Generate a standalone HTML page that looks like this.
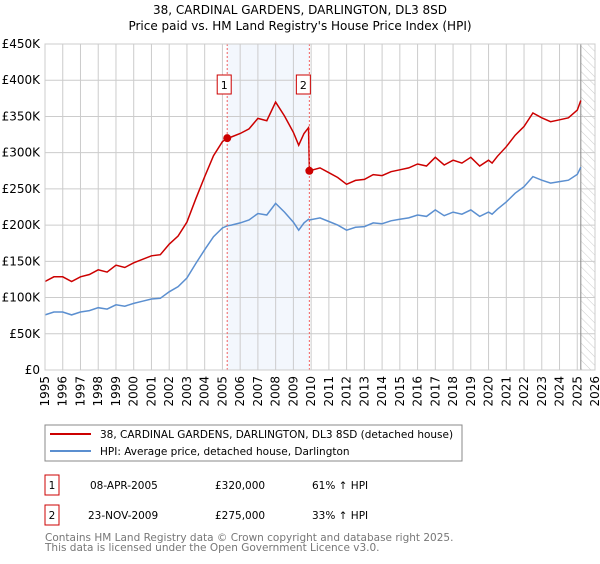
<!DOCTYPE html>
<html><head><meta charset="utf-8"><style>
body{margin:0;background:#fff;font-family:"DejaVu Sans","Liberation Sans",sans-serif;}
svg text{font-family:"DejaVu Sans","Liberation Sans",sans-serif;}
</style></head><body>
<svg id="c" width="600" height="560" xmlns="http://www.w3.org/2000/svg">
<defs><pattern id="hatch" width="6" height="6" patternUnits="userSpaceOnUse" patternTransform="rotate(-45)"><line x1="0" y1="0" x2="0" y2="6" stroke="#ccc" stroke-width="1"/></pattern></defs>
<text x="300" y="14" text-anchor="middle" font-size="12">38, CARDINAL GARDENS, DARLINGTON, DL3 8SD</text>
<text x="300" y="30" text-anchor="middle" font-size="12">Price paid vs. HM Land Registry's House Price Index (HPI)</text>
<g id="grid"></g><g id="series"></g><g id="axes"></g>
<rect x="45" y="425" width="417" height="36" fill="#fff" stroke="#888"/>
<line x1="50" y1="434" x2="91" y2="434" stroke="#cc0000" stroke-width="2"/>
<text x="100" y="438" font-size="10.5">38, CARDINAL GARDENS, DARLINGTON, DL3 8SD (detached house)</text>
<line x1="50" y1="451" x2="91" y2="451" stroke="#5b8fd0" stroke-width="2"/>
<text x="100" y="455" font-size="10.5">HPI: Average price, detached house, Darlington</text>
<g font-size="10.5">
<rect x="45" y="475" width="14" height="20" fill="#fff" stroke="#cc0000"/>
<text x="52" y="489" text-anchor="middle">1</text>
<text x="90" y="489">08-APR-2005</text>
<text x="215" y="489">£320,000</text>
<text x="312" y="489">61% ↑ HPI</text>
<rect x="45" y="505" width="14" height="20" fill="#fff" stroke="#cc0000"/>
<text x="52" y="519" text-anchor="middle">2</text>
<text x="88" y="519">23-NOV-2009</text>
<text x="215" y="519">£275,000</text>
<text x="312" y="519">33% ↑ HPI</text>
</g>
<text x="45" y="541" font-size="10.5" fill="#777">Contains HM Land Registry data © Crown copyright and database right 2025.</text>
<text x="45" y="551" font-size="10.5" fill="#777">This data is licensed under the Open Government Licence v3.0.</text>
</svg>
<script>
const years=[1995,1995.5,1996,1996.5,1997,1997.5,1998,1998.5,1999,1999.5,2000,2000.5,2001,2001.5,2002,2002.5,2003,2003.5,2004,2004.5,2005,2005.27,2005.5,2006,2006.5,2007,2007.5,2008,2008.5,2009,2009.3,2009.6,2009.85,2009.9,2010.5,2011,2011.5,2012,2012.5,2013,2013.5,2014,2014.5,2015,2015.5,2016,2016.5,2017,2017.5,2018,2018.5,2019,2019.5,2020,2020.2,2020.5,2021,2021.5,2022,2022.5,2023,2023.5,2024,2024.5,2025,2025.2];
const hpi=[76,80,80,76,80,82,86,84,90,88,92,95,98,99,108,115,127,147,166,184,196,199,200,203,207,216,214,230,218,204,193,203,208,207,210,205,200,193,197,198,203,202,206,208,210,214,212,221,213,218,215,221,212,218,215,222,232,244,253,267,262,258,260,262,270,280];
const sales=[{d:2005.27,p:320},{d:2009.9,p:275}];
const yTicks=[0,50,100,150,200,250,300,350,400,450];
const xTicks=[1995,1996,1997,1998,1999,2000,2001,2002,2003,2004,2005,2006,2007,2008,2009,2010,2011,2012,2013,2014,2015,2016,2017,2018,2019,2020,2021,2022,2023,2024,2025,2026];
const NS='http://www.w3.org/2000/svg';
const X=t=>45+(t-1995)*550/31, Y=v=>370-v*326/450;
function mk(tag,at,par){const e=document.createElementNS(NS,tag);for(const k in at)e.setAttribute(k,at[k]);par.appendChild(e);return e;}
const grid=document.getElementById('grid'),ser=document.getElementById('series'),ax=document.getElementById('axes');
const bg=mk('rect',{x:X(sales[0].d),y:44,width:X(sales[1].d)-X(sales[0].d),height:326,fill:'#eef3fc',opacity:0.7},grid);


const dataEnd=years[years.length-1];
const ht=mk('rect',{x:X(dataEnd),y:44,width:X(2026)-X(dataEnd),height:326,fill:'url(#hatch)'},grid);


yTicks.forEach(v=>{const l=mk('line',{x1:45,x2:595,y1:Y(v),y2:Y(v),stroke:'#ccc'},grid);


const t=mk('text',{x:40,y:Y(v)+4,'text-anchor':'end','font-size':12},ax);t.textContent=v?'£'+v+'K':'£0';

});
xTicks.forEach(y=>{const l=mk('line',{x1:X(y),x2:X(y),y1:44,y2:370,stroke:'#ccc'},grid);


const t=mk('text',{x:X(y)+4,y:376,'text-anchor':'end','font-size':12,transform:`rotate(-90 ${X(y)+4} 376)`},ax);
t.textContent=y;

});
const el=mk('line',{x1:X(dataEnd),x2:X(dataEnd),y1:44,y2:370,stroke:'#888','stroke-width':1},grid);


function hpiAt(t){for(let i=0;i<years.length-1;i++)if(t<=years[i+1]){const f=(t-years[i])/(years[i+1]-years[i]);return hpi[i]+f*(hpi[i+1]-hpi[i]);}return hpi[hpi.length-1];}
const r1=sales[0].p/hpiAt(sales[0].d),r2=sales[1].p/hpiAt(sales[1].d);
const red=years.map((t,i)=>t<sales[1].d?hpi[i]*r1:hpi[i]*r2);
let bp='',rp='';
years.forEach((t,i)=>{bp+=(i?'L':'M')+X(t).toFixed(1)+','+Y(hpi[i]).toFixed(1);
rp+=(i?'L':'M')+X(t).toFixed(1)+','+Y(red[i]).toFixed(1);});
const b=mk('path',{d:bp,fill:'none',stroke:'#5b8fd0','stroke-width':1.5},ser);


const r=mk('path',{d:rp,fill:'none',stroke:'#cc0000','stroke-width':1.5},ser);


sales.forEach((s,i)=>{const x=X(s.d);
const dl=mk('line',{x1:x,x2:x,y1:44,y2:370,stroke:'#f06060','stroke-dasharray':'2,2'},ser);


const c=mk('circle',{cx:x,cy:Y(s.p),r:4,fill:'#cc0000'},ser);


const bx=mk('rect',{x:x-10-(i?3:0),y:75,width:14,height:19,fill:'#fff',stroke:'#cc0000'},ser);


const tt=mk('text',{x:x-3-(i?3:0),y:89,'text-anchor':'middle','font-size':11},ser);tt.textContent=i+1;

});
const bd=mk('rect',{x:45,y:44,width:550,height:326,fill:'none',stroke:'#ccc'},ax);


</script>
</body></html>
